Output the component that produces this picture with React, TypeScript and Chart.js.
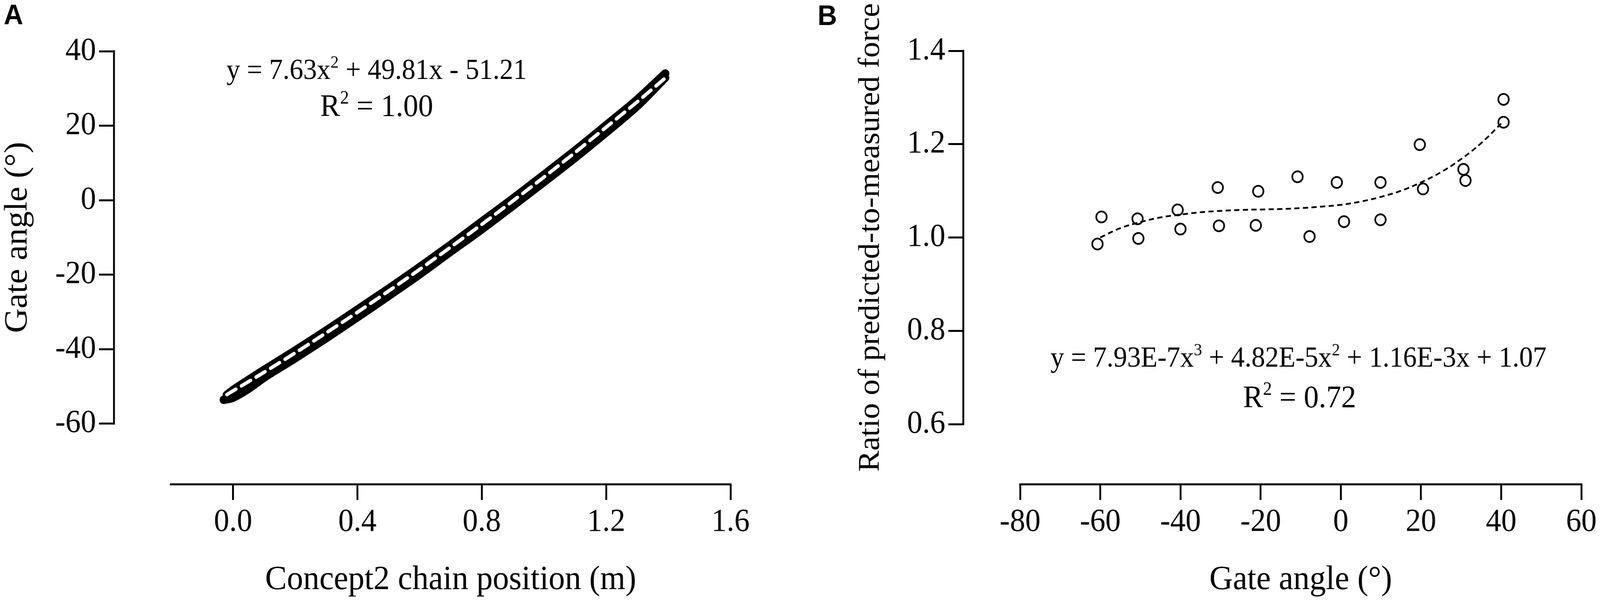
import { useEffect, useRef } from "react";
import { Chart, registerables } from "chart.js";

Chart.register(...registerables);

// ---- Panel A: gate angle vs Concept2 chain position ----
// measured stroke (drive, lower edge of the band)
const driveX = [-0.03, 0.0, 0.05, 0.1, 0.2, 0.3, 0.4, 0.5, 0.6, 0.7, 0.8, 0.9, 1.0, 1.1, 1.2, 1.3, 1.39];
const driveY = [-53.6, -53.0, -50.6, -47.6, -42.4, -37.0, -31.4, -25.7, -19.9, -13.8, -7.8, -1.5, 4.9, 11.4, 18.2, 25.3, 32.9];
// measured stroke (recovery, upper edge of the band)
const recoveryX = [1.39, 1.3, 1.2, 1.1, 1.0, 0.9, 0.8, 0.7, 0.6, 0.5, 0.4, 0.3, 0.2, 0.1, 0.0, -0.02];
const recoveryY = [34.0, 27.0, 20.1, 13.3, 6.8, 0.4, -5.8, -12.0, -18.0, -23.8, -29.4, -35.0, -40.4, -45.6, -51.0, -52.3];
// quadratic fit (white dashed)
const fitAX = [-0.02, 0.1, 0.2, 0.3, 0.4, 0.5, 0.6, 0.7, 0.8, 0.9, 1.0, 1.1, 1.2, 1.3, 1.39];
const fitAY = [-52.2, -46.2, -41.0, -35.6, -30.1, -24.4, -18.6, -12.6, -6.5, -0.2, 6.2, 12.8, 19.6, 26.4, 32.8];
const xTicksA = [0, 0.4, 0.8, 1.2, 1.6];
const yTicksA = [-60, -40, -20, 0, 20, 40];

// ---- Panel B: ratio of predicted-to-measured force vs gate angle ----
const ratioX = [-60.7, -59.7, -50.7, -50.5, -40.7, -40.0, -30.7, -30.4, -20.6, -21.2, -10.8, -7.8, -1.0, 0.8, 9.9, 9.9, 19.7, 20.5, 30.6, 31.1, 40.6, 40.6];
const ratioY = [0.986, 1.044, 1.04, 0.998, 1.059, 1.018, 1.107, 1.025, 1.099, 1.026, 1.13, 1.002, 1.118, 1.034, 1.118, 1.038, 1.199, 1.104, 1.146, 1.122, 1.296, 1.247];
const fitBX = [-60, -55, -50, -45, -40, -35, -30, -25, -20, -15, -10, -5, 0, 5, 10, 15, 20, 25, 30, 35, 40];
const fitBY = [1.0, 1.02, 1.033, 1.043, 1.049, 1.054, 1.057, 1.059, 1.06, 1.061, 1.063, 1.066, 1.07, 1.077, 1.087, 1.1, 1.118, 1.14, 1.168, 1.202, 1.244];
const xTicksB = [-80, -60, -40, -20, 0, 20, 40, 60];
const yTicksB = [0.6, 0.8, 1.0, 1.2, 1.4];

const SERIF = '"Liberation Serif", "Times New Roman", serif';
const TICK_SIZE = 82;
const EQ_SIZE = 73;
const R2_SIZE = 80;

type Seg = { t: string; sup?: boolean };

function drawRich(ctx: CanvasRenderingContext2D, segs: Seg[], cx: number, baseline: number, size: number) {
  const supSize = size * 0.6;
  const widths = segs.map((s) => {
    ctx.font = `${s.sup ? supSize : size}px ${SERIF}`;
    return ctx.measureText(s.t).width;
  });
  let x = cx - widths.reduce((a, b) => a + b, 0) / 2;
  ctx.textAlign = "left";
  ctx.textBaseline = "alphabetic";
  segs.forEach((s, i) => {
    ctx.font = `${s.sup ? supSize : size}px ${SERIF}`;
    ctx.fillText(s.t, x, s.sup ? baseline - size * 0.4 : baseline);
    x += widths[i];
  });
}

type Spec = {
  letter: string;
  letterX: number;
  letterY: number;
  xTitle: string;
  yTitle: string;
  xTitleSize: number;
  yTitleSize: number;
  xSpan: [number, number];
  ySpan: [number, number];
  yTitleX: number;
  xTitleY: number;
  eq: Seg[];
  eqX: number;
  eqY: number;
  r2: Seg[];
  r2X: number;
  r2Y: number;
};

// GraphPad-style detached axes, titles and the fit equations
function frame(spec: Spec) {
  return {
    id: "prismFrame",
    afterDraw(chart: any) {
      const { ctx, chartArea } = chart;
      const x = chart.scales.x;
      const y = chart.scales.y;
      ctx.save();
      ctx.strokeStyle = "#000";
      ctx.lineWidth = 5;
      ctx.beginPath();
      ctx.moveTo(chartArea.left, y.getPixelForValue(spec.ySpan[0]) + 2.5);
      ctx.lineTo(chartArea.left, y.getPixelForValue(spec.ySpan[1]) - 2.5);
      ctx.moveTo(x.getPixelForValue(spec.xSpan[0]) - 2.5, chartArea.bottom);
      ctx.lineTo(x.getPixelForValue(spec.xSpan[1]) + 2.5, chartArea.bottom);
      ctx.stroke();

      ctx.fillStyle = "#000";
      ctx.textAlign = "center";
      ctx.textBaseline = "alphabetic";
      ctx.font = `${spec.xTitleSize}px ${SERIF}`;
      const xc = (x.getPixelForValue(spec.xSpan[0]) + x.getPixelForValue(spec.xSpan[1])) / 2;
      ctx.fillText(spec.xTitle, xc, spec.xTitleY);
      ctx.font = `${spec.yTitleSize}px ${SERIF}`;
      const yc = (y.getPixelForValue(spec.ySpan[0]) + y.getPixelForValue(spec.ySpan[1])) / 2;
      ctx.save();
      ctx.translate(spec.yTitleX, yc);
      ctx.rotate(-Math.PI / 2);
      ctx.fillText(spec.yTitle, 0, 0);
      ctx.restore();

      drawRich(ctx, spec.eq, spec.eqX, spec.eqY, EQ_SIZE);
      drawRich(ctx, spec.r2, spec.r2X, spec.r2Y, R2_SIZE);

      ctx.font = `bold 72px "Liberation Sans", Arial, sans-serif`;
      ctx.textAlign = "left";
      ctx.fillText(spec.letter, spec.letterX, spec.letterY);
      ctx.restore();
    },
  };
}

function axis(min: number, max: number, values: number[], fmt: (v: number) => string, fit: (s: any) => void) {
  return {
    type: "linear" as const,
    min,
    max,
    bounds: "data" as const,
    afterBuildTicks: (s: any) => {
      s.ticks = values.map((value) => ({ value }));
    },
    afterFit: fit,
    border: { display: false },
    grid: {
      drawOnChartArea: false,
      drawTicks: true,
      tickLength: 40,
      tickWidth: 5,
      tickColor: "#000",
    },
    ticks: {
      autoSkip: false,
      maxRotation: 0,
      padding: 8,
      color: "#000",
      font: { family: SERIF, size: TICK_SIZE },
      callback: (v: any) => fmt(Number(v)),
    },
  };
}

const pts = (xs: number[], ys: number[]) => xs.map((x, i) => ({ x, y: ys[i] }));

const baseOptions = {
  animation: false,
  responsive: false,
  devicePixelRatio: 1,
  plugins: { legend: { display: false }, tooltip: { enabled: false } },
};

function configA(): any {
  const spec: Spec = {
    letter: "A",
    letterX: 10,
    letterY: 62,
    xTitle: "Concept2 chain position (m)",
    yTitle: "Gate angle (°)",
    xTitleSize: 87,
    yTitleSize: 87,
    xSpan: [-0.2, 1.6],
    ySpan: [-60, 40],
    yTitleX: 71,
    xTitleY: 1507,
    eq: [{ t: "y = 7.63x" }, { t: "2", sup: true }, { t: " + 49.81x - 51.21" }],
    eqX: 1008,
    eqY: 202,
    r2: [{ t: "R" }, { t: "2", sup: true }, { t: " = 1.00" }],
    r2X: 1008,
    r2Y: 297,
  };
  const band = {
    showLine: true,
    borderColor: "#000",
    borderWidth: 22,
    borderCapStyle: "round",
    borderJoinStyle: "round",
    pointRadius: 0,
    tension: 0.3,
  };
  return {
    type: "scatter",
    data: {
      datasets: [
        {
          data: pts(fitAX, fitAY),
          showLine: true,
          borderColor: "#fff",
          borderWidth: 9,
          borderDash: [28, 17],
          borderCapStyle: "round",
          pointRadius: 0,
          tension: 0.3,
        },
        { ...band, data: pts(recoveryX, recoveryY) },
        { ...band, data: pts(driveX, driveY) },
      ],
    },
    options: {
      ...baseOptions,
      layout: { padding: { top: 131, right: 186, bottom: 0, left: 0 } },
      scales: {
        x: axis(-0.383, 1.6, xTicksA, (v) => v.toFixed(1), (s) => (s.height = 301)),
        y: axis(-76.3, 40, yTicksA, (v) => String(Math.round(v)), (s) => (s.width = 305)),
      },
    },
    plugins: [frame(spec)],
  };
}

function configB(): any {
  const spec: Spec = {
    letter: "B",
    letterX: 47,
    letterY: 64,
    xTitle: "Gate angle (°)",
    yTitle: "Ratio of predicted-to-measured force",
    xTitleSize: 87,
    yTitleSize: 81,
    xSpan: [-80, 60],
    ySpan: [0.6, 1.4],
    yTitleX: 211,
    xTitleY: 1507,
    eq: [
      { t: "y = 7.93E-7x" },
      { t: "3", sup: true },
      { t: " + 4.82E-5x" },
      { t: "2", sup: true },
      { t: " + 1.16E-3x + 1.07" },
    ],
    eqX: 1334,
    eqY: 938,
    r2: [{ t: "R" }, { t: "2", sup: true }, { t: " = 0.72" }],
    r2X: 1337,
    r2Y: 1042,
  };
  return {
    type: "scatter",
    data: {
      datasets: [
        {
          data: pts(ratioX, ratioY),
          pointStyle: "circle",
          pointRadius: 14,
          pointBorderWidth: 4.5,
          pointBorderColor: "#000",
          pointBackgroundColor: "rgba(0,0,0,0)",
        },
        {
          data: pts(fitBX, fitBY),
          showLine: true,
          borderColor: "#000",
          borderWidth: 4.5,
          borderDash: [14, 9],
          pointRadius: 0,
          tension: 0.4,
        },
      ],
    },
    options: {
      ...baseOptions,
      layout: { padding: { top: 130, right: 50, bottom: 0, left: 0 } },
      scales: {
        x: axis(-94.17, 60, xTicksB, (v) => String(Math.round(v)), (s) => (s.height = 301)),
        y: axis(0.471, 1.4, yTicksB, (v) => v.toFixed(1), (s) => (s.width = 437)),
      },
    },
    plugins: [frame(spec)],
  };
}

function PanelCanvas({ make, left }: { make: () => any; left: string }) {
  const ref = useRef<HTMLCanvasElement>(null);

  useEffect(() => {
    if (!ref.current) return;
    const chart = new Chart(ref.current, make());
    return () => chart.destroy();
  }, [make]);

  // drawn at 2141x1540 and stretched to half of the viewport
  return (
    <canvas
      ref={ref}
      width={2141}
      height={1540}
      style={{ position: "absolute", left, top: 0, width: "50%", height: "100%" }}
    />
  );
}

export default function App() {
  return (
    <div style={{ position: "fixed", left: 0, top: 0, width: "100vw", height: "100vh", overflow: "hidden", background: "#fff" }}>
      <PanelCanvas make={configA} left="0" />
      <PanelCanvas make={configB} left="50%" />
    </div>
  );
}
